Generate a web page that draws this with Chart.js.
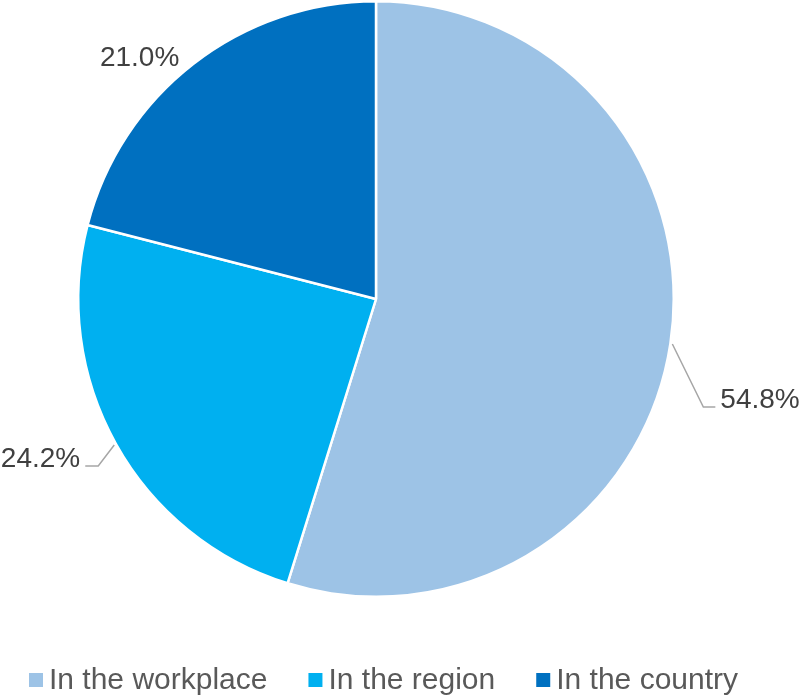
<!DOCTYPE html>
<html>
<head>
<meta charset="utf-8">
<script src="https://cdn.jsdelivr.net/npm/chart.js"></script>
<style>
  html, body { margin: 0; padding: 0; background: #ffffff; }
  #wrap { width: 800px; height: 696px; }
</style>
</head>
<body>
<div id="wrap"><canvas id="myPieChart" width="800" height="696"></canvas></div>
<script>
    // data
    const categories = ['In the workplace', 'In the region', 'In the country'];
    const shares = [54.8, 24.2, 21.0];
    const sliceColors = ['#9DC3E6', '#00B0F0', '#0070C0'];

    // where each percentage label sits relative to the slice's outer edge
    // elbow = bend of the leader line, tail = horizontal bit, null elbow = no line
    const labelLayout = [
        { elbow: [31, 63], tail: 12, gap: 5 },
        { elbow: [-16, 21], tail: -13, gap: -5 },
        { elbow: null, text: [-13, 4] }
    ];

    const FONT = '"Liberation Sans", Arial, sans-serif';

    const pctLabels = {
        id: 'pctLabels',
        afterDatasetsDraw(chart) {
            const ctx = chart.ctx;
            const meta = chart.getDatasetMeta(0);
            ctx.save();
            ctx.font = '28px ' + FONT;
            ctx.fillStyle = '#404040';
            ctx.textBaseline = 'alphabetic';
            meta.data.forEach((arc, i) => {
                const p = arc.getProps(['x', 'y', 'startAngle', 'endAngle', 'outerRadius'], true);
                const mid = (p.startAngle + p.endAngle) / 2;
                const ex = p.x + Math.cos(mid) * (p.outerRadius + 2);
                const ey = p.y + Math.sin(mid) * (p.outerRadius + 2);
                const lay = labelLayout[i];
                const txt = shares[i].toFixed(1) + '%';
                if (lay.elbow) {
                    const bx = ex + lay.elbow[0];
                    const by = ey + lay.elbow[1];
                    const tx = bx + lay.tail;
                    ctx.strokeStyle = '#A6A6A6';
                    ctx.lineWidth = 1.5;
                    ctx.beginPath();
                    ctx.moveTo(ex, ey);
                    ctx.lineTo(bx, by);
                    ctx.lineTo(tx, by);
                    ctx.stroke();
                    ctx.textAlign = lay.tail > 0 ? 'left' : 'right';
                    ctx.fillText(txt, tx + lay.gap, by + 1);
                } else {
                    ctx.textAlign = 'right';
                    ctx.fillText(txt, ex + lay.text[0], ey + lay.text[1]);
                }
            });
            ctx.restore();
        }
    };

    // legend drawn by hand: small square, tight gap, like the office chart
    const bottomLegend = {
        id: 'bottomLegend',
        afterDraw(chart) {
            const ctx = chart.ctx;
            const box = 14, boxGap = 6, itemGap = 41;
            ctx.save();
            ctx.font = '30px ' + FONT;
            const widths = categories.map(c => box + boxGap + ctx.measureText(c).width);
            const total = widths.reduce((a, b) => a + b, 0) + itemGap * (categories.length - 1);
            let x = 383.5 - total / 2;
            const y = 680;
            ctx.textBaseline = 'middle';
            ctx.textAlign = 'left';
            categories.forEach((c, i) => {
                ctx.fillStyle = sliceColors[i];
                ctx.fillRect(x, y - box / 2, box, box);
                ctx.fillStyle = '#595959';
                ctx.fillText(c, x + box + boxGap, y + 1);
                x += widths[i] + itemGap;
            });
            ctx.restore();
        }
    };

    const chartCanvas = document.getElementById('myPieChart');
    const ctx = chartCanvas.getContext('2d');

    new Chart(ctx, {
        type: 'pie',
        data: {
            labels: categories,
            datasets: [{
                data: shares,
                backgroundColor: sliceColors,
                borderColor: '#ffffff',
                borderWidth: 2.5
            }]
        },
        options: {
            responsive: false,
            animation: false,
            layout: { padding: { top: 0, left: 0, right: 48, bottom: 98 } },
            plugins: {
                legend: { display: false },
                tooltip: { enabled: false }
            }
        },
        plugins: [pctLabels, bottomLegend]
    });
</script>
</body>
</html>
